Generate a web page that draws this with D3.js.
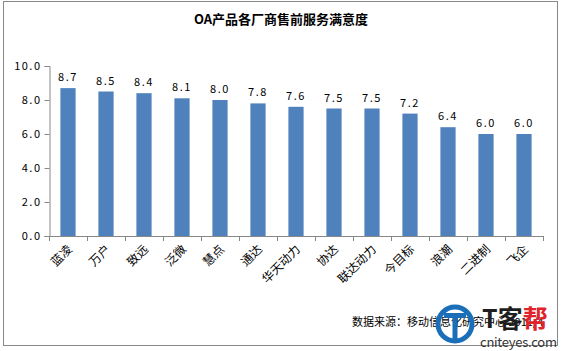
<!DOCTYPE html>
<html>
<head>
<meta charset="utf-8">
<script src="https://cdn.jsdelivr.net/npm/d3@7"></script>
<style>
body { margin: 0; background: #fff; }
text { font-family: "Noto Sans CJK SC", "DejaVu Sans", sans-serif; }
</style>
</head>
<body>
<script>
var vendors = ['蓝凌','万户','致远','泛微','慧点','通达','华天动力','协达','联达动力','今目标','浪潮','二进制','飞企'];
var scores = [8.7, 8.5, 8.4, 8.1, 8.0, 7.8, 7.6, 7.5, 7.5, 7.2, 6.4, 6.0, 6.0];
var yTicks = [0, 2, 4, 6, 8, 10];

var WIDTH = 563, HEIGHT = 351;
var LEFT = 49, RIGHT = 543, TOP = 66, BOTTOM = 236;

var translate = function (x, y) {
    return "translate(" + x + "," + y + ")";
};

var svg = d3.select('body').append('svg')
    .attr('width', WIDTH)
    .attr('height', HEIGHT);

// outer frame
svg.append('rect')
    .attr('x', 3.5).attr('y', 1.5)
    .attr('width', 554).attr('height', 344)
    .attr('fill', 'none').attr('stroke', '#888').attr('stroke-width', 1);

svg.append('text')
    .attr('x', 281).attr('y', 24)
    .attr('text-anchor', 'middle')
    .attr('font-size', 13).attr('font-weight', 'bold')
    .text('OA产品各厂商售前服务满意度');

var xScale = d3.scaleBand()
    .domain(vendors)
    .range([LEFT, RIGHT])
    .paddingInner(0.6)
    .paddingOuter(0.3);

var yScale = d3.scaleLinear()
    .domain([0, 10])
    .range([BOTTOM, TOP]);

// y axis
var yAxis = d3.axisLeft(yScale)
    .tickValues(yTicks)
    .tickSize(5)
    .tickFormat(d3.format('.1f'));

var yg = svg.append('g')
    .attr('transform', translate(LEFT + 0.5, 0))
    .call(yAxis);
yg.selectAll('line, path').attr('stroke', '#888');
yg.selectAll('text').attr('font-size', 11).attr('fill', '#000')
    .attr('font-family', '"DejaVu Sans", sans-serif')
    .attr('letter-spacing', 1.5).attr('x', -8);

// bars
svg.append('g').selectAll('rect')
    .data(vendors)
    .enter()
    .append('rect')
    .attr('x', function (d) { return xScale(d); })
    .attr('y', function (d, i) { return yScale(scores[i]); })
    .attr('width', xScale.bandwidth())
    .attr('height', function (d, i) { return BOTTOM - yScale(scores[i]); })
    .attr('fill', '#4f81bd');

// value labels
svg.append('g').selectAll('text')
    .data(vendors)
    .enter()
    .append('text')
    .attr('x', function (d) { return xScale(d) + xScale.bandwidth() / 2; })
    .attr('y', function (d, i) { return yScale(scores[i]) - 7; })
    .attr('text-anchor', 'middle')
    .attr('font-size', 11)
    .attr('font-family', '"DejaVu Sans", sans-serif')
    .attr('letter-spacing', 1.5)
    .text(function (d, i) { return scores[i].toFixed(1); });

// x axis line and ticks between categories
var xg = svg.append('g');
xg.append('line')
    .attr('x1', LEFT).attr('x2', RIGHT)
    .attr('y1', BOTTOM + 0.5).attr('y2', BOTTOM + 0.5)
    .attr('stroke', '#888');
xg.selectAll('line.tick')
    .data(d3.range(vendors.length + 1))
    .enter()
    .append('line')
    .attr('class', 'tick')
    .attr('x1', function (i) { return Math.round(LEFT + i * (RIGHT - LEFT) / vendors.length) + 0.5; })
    .attr('x2', function (i) { return Math.round(LEFT + i * (RIGHT - LEFT) / vendors.length) + 0.5; })
    .attr('y1', BOTTOM).attr('y2', BOTTOM + 5)
    .attr('stroke', '#888');

// category labels
svg.append('g').selectAll('text')
    .data(vendors)
    .enter()
    .append('text')
    .attr('transform', function (d) {
        return translate(xScale(d) + xScale.bandwidth() / 2 + 5, BOTTOM + 14) + ' rotate(-45)';
    })
    .attr('text-anchor', 'end')
    .attr('font-size', 12)
    .text(function (d) { return d; });

// source note
svg.append('text')
    .attr('x', 352).attr('y', 326)
    .attr('font-size', 11)
    .text('数据来源：移动信息化研究中心 2011/4');

// watermark
var wm = svg.append('g');
wm.append('circle').attr('cx', 455).attr('cy', 324).attr('r', 17)
    .attr('fill', 'none').attr('stroke', '#1a6fb8').attr('stroke-width', 5);
wm.append('rect').attr('x', 444).attr('y', 313).attr('width', 22).attr('height', 5).attr('fill', '#1a6fb8');
wm.append('rect').attr('x', 452.5).attr('y', 313).attr('width', 5).attr('height', 26).attr('fill', '#1a6fb8');
var brand = wm.append('text').attr('x', 482).attr('y', 328)
    .attr('font-size', 25).attr('font-weight', 'bold');
brand.append('tspan').attr('fill', '#1e1e1e').text('T客');
brand.append('tspan').attr('fill', '#e0242b').text('帮');
wm.append('text').attr('x', 480).attr('y', 347)
    .attr('font-size', 13).attr('fill', '#333')
    .attr('font-family', '"DejaVu Sans", sans-serif')
    .attr('textLength', 77)
    .text('cniteyes.com');
</script>
</body>
</html>
